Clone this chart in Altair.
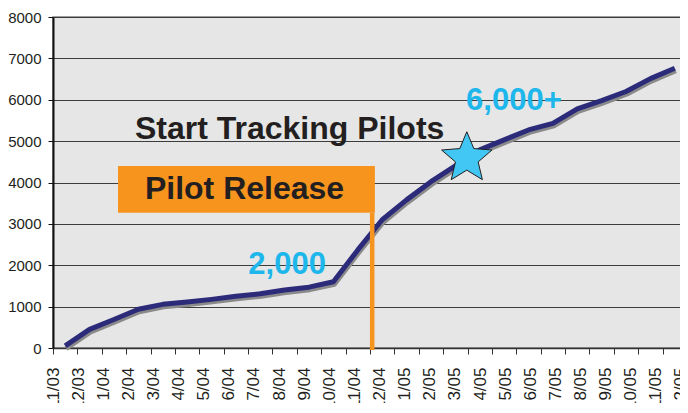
import math
import altair as alt
import pandas as pd

# ---------------- data ----------------
months = ["11/03", "12/03", "1/04", "2/04", "3/04", "4/04", "5/04", "6/04", "7/04",
          "8/04", "9/04", "10/04", "11/04", "12/04", "1/05", "2/05", "3/05", "4/05",
          "5/05", "6/05", "7/05", "8/05", "9/05", "10/05", "11/05", "12/05"]
pilots = [50, 450, 690, 935, 1055, 1110, 1175, 1250, 1310, 1400, 1470, 1600, 2370,
          3100, 3580, 4020, 4400, 4790, 5030, 5270, 5430, 5780, 5980, 6200, 6510, 6760]
y_ticks = [0, 1000, 2000, 3000, 4000, 5000, 6000, 7000, 8000]

event_text = ["Start Tracking Pilots", "Pilot Release"]
event_x = [3.36, 3.77]
event_y = [5044, 3594]
count_text = ["2,000", "6,000+"]
count_x = [8.01, 16.94]
count_y = [1789, 5752]

box_x, box_x2, box_y, box_y2 = 2.666, 13.2, 3270, 4399
release_x, release_y, release_y2 = 13.09, 3270, -50
star_x, star_y = 16.97, 4587

# ---------------- frames ----------------
n = len(months)
line_df = pd.DataFrame({"pos": [i + 0.5 for i in range(n)], "month": months, "pilots": pilots})
event_df = pd.DataFrame({"x": event_x, "y": event_y, "text": event_text})
count_df = pd.DataFrame({"x": count_x, "y": count_y, "text": count_text})
box_df = pd.DataFrame({"x": [box_x], "x2": [box_x2], "y": [box_y], "y2": [box_y2]})
rule_df = pd.DataFrame({"x": [release_x], "y": [release_y], "y2": [release_y2]})
star_df = pd.DataFrame({"x": [star_x], "y": [star_y]})

FONT = "Liberation Sans"
xs = alt.Scale(domain=[0, n], nice=False, zero=False)
ys = alt.Scale(domain=[0, 8000], nice=False, zero=False)

label_step = 1.0301
label_pos = [round(k * label_step, 4) for k in range(n)]
label_expr = "[" + ",".join("'%s'" % m for m in months) + "][round(datum.value / %s)]" % label_step

tick_axis = alt.Axis(values=list(range(n + 1)), labels=False, ticks=True, tickSize=6,
                     tickColor="#333333", tickWidth=1, domain=True, domainColor="#333333",
                     domainWidth=1.5, grid=False, title=None, orient="bottom")
label_axis = alt.Axis(values=label_pos, labelExpr=label_expr, labelAngle=270, ticks=False,
                      domain=False, grid=False, labelPadding=19, labelFontSize=17,
                      labelFont=FONT, labelColor="#231f20", labelOverlap=False,
                      labelFlush=False, labelBound=False, title=None, orient="bottom")
y_axis = alt.Axis(values=y_ticks, format="d", labelFontSize=15, labelFont=FONT,
                  labelColor="#231f20", labelPadding=7, tickSize=5, tickColor="#111111",
                  domainColor="#111111", domainWidth=2, grid=True, gridColor="#3c3c3c",
                  gridWidth=1, title=None)

Y = lambda f: alt.Y(f, scale=ys, axis=y_axis)
X = lambda f: alt.X(f, scale=xs, axis=None)

shadow = alt.Chart(line_df).mark_line(color="#8a8a8a", strokeWidth=5, xOffset=1,
                                      yOffset=2.5, strokeJoin="round").encode(
    x=alt.X("pos:Q", scale=xs, axis=tick_axis),
    y=Y("pilots:Q"),
)
line = alt.Chart(line_df).mark_line(color="#2c2b7a", strokeWidth=5,
                                    strokeJoin="round").encode(
    x=alt.X("pos:Q", scale=xs, axis=label_axis),
    y=Y("pilots:Q"),
)
rule = alt.Chart(rule_df).mark_rule(color="#f7941e", strokeWidth=4.5).encode(
    x=X("x:Q"), y=Y("y:Q"), y2="y2:Q",
)
box = alt.Chart(box_df).mark_rect(color="#f7941e").encode(
    x=X("x:Q"), x2="x2:Q", y=Y("y:Q"), y2="y2:Q",
)
star_path = []
for i in range(10):
    r = 1.0 if i % 2 == 0 else 0.45
    a = math.radians(-90 + 36 * i)
    star_path.append("%s%.4f,%.4f" % ("M" if i == 0 else "L", r * math.cos(a), r * math.sin(a)))
star_shape = " ".join(star_path) + " Z"
star = alt.Chart(star_df).mark_point(shape=star_shape, size=2809, filled=True,
                                     fill="#42c6f4", stroke="#231f20", strokeWidth=1,
                                     opacity=1, fillOpacity=1, strokeOpacity=1).encode(
    x=X("x:Q"), y=Y("y:Q"),
)
event_labels = alt.Chart(event_df).mark_text(font=FONT, fontWeight="bold", fontSize=32,
                                             color="#231f20", align="left",
                                             baseline="alphabetic").encode(
    x=X("x:Q"), y=Y("y:Q"), text="text:N",
)
count_labels = alt.Chart(count_df).mark_text(font=FONT, fontWeight="bold", fontSize=31,
                                             color="#1db7ec", align="left",
                                             baseline="alphabetic").encode(
    x=X("x:Q"), y=Y("y:Q"), text="text:N",
)

chart = alt.layer(shadow, line, rule, box, star, event_labels, count_labels).resolve_axis(
    x="independent"
).properties(
    width=634, height=331,
    autosize=alt.AutoSizeParams(type="none"),
    padding={"left": 45, "top": 9, "right": -7, "bottom": 55},
).configure_view(fill="#e6e6e6", stroke="#7f7f7f", strokeWidth=1.5)

chart.save("out.html", embed_options={"renderer": "svg", "actions": False})
